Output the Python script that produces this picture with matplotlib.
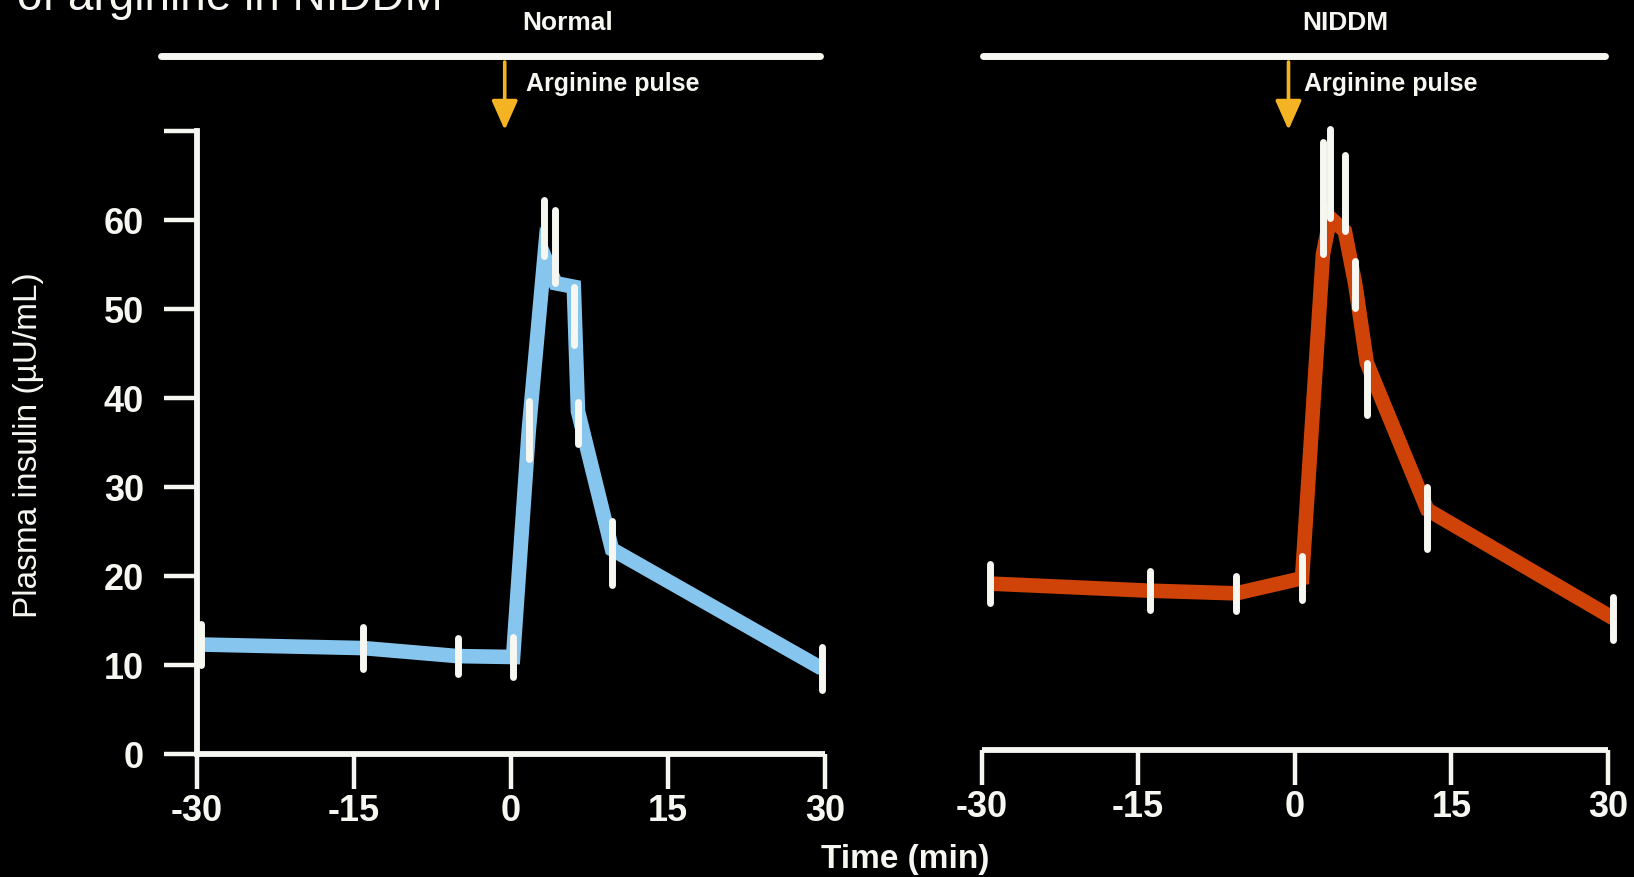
import matplotlib
matplotlib.use("Agg")
import matplotlib.pyplot as plt
from matplotlib import font_manager
from matplotlib.lines import Line2D

# ---------------- data ----------------
time_normal = [-29.6, -14.1, -5.1, 0.2, 1.7, 3.2, 4.25, 6.0, 6.4, 9.65, 29.7]
ins_normal = [12.3, 11.9, 11.0, 10.9, 36.4, 55.9, 52.9, 52.5, 38.5, 23.0, 9.6]
err_lo_normal = [2.3, 2.4, 2.0, 2.3, 3.3, 0.0, 0.0, 6.5, 3.7, 4.0, 2.4]
err_hi_normal = [2.3, 2.4, 2.0, 2.3, 3.3, 6.3, 8.2, 0.0, 1.0, 3.2, 2.4]

time_niddm = [-29.2, -13.9, -5.6, 0.7, 2.7, 3.4, 4.8, 5.8, 6.9, 12.7, 30.5]
ins_niddm = [18.7, 17.9, 17.6, 19.3, 55.7, 59.8, 58.3, 52.3, 43.5, 27.0, 14.8]
err_lo_niddm = [2.2, 2.2, 2.0, 2.5, 0.0, 0.0, 0.0, 2.6, 5.9, 4.4, 2.4]
err_hi_niddm = [2.2, 2.2, 2.0, 2.5, 12.6, 10.0, 8.5, 2.6, 0.0, 2.5, 2.4]

x_ticks = [-30, -15, 0, 15, 30]
x_tick_labels = ["-30", "-15", "0", "15", "30"]
y_ticks = [0, 10, 20, 30, 40, 50, 60, 70]
y_tick_labels = ["0", "10", "20", "30", "40", "50", "60", ""]
pulse_time = -0.6

panel_titles = ["Normal", "NIDDM"]
pulse_label = "Arginine pulse"
x_label = "Time (min)"
y_label = "Plasma insulin (\u00b5U/mL)"
top_text = "of arginine in NIDDM"

# ---------------- style ----------------
W, H = 1634, 878
avail = {f.name for f in font_manager.fontManager.ttflist}
base_font = "Liberation Sans" if "Liberation Sans" in avail else "DejaVu Sans"
narrow_font = "Liberation Sans Narrow" if "Liberation Sans Narrow" in avail else base_font
narrow_size = 31 if narrow_font == "Liberation Sans Narrow" else 26
label_size = 30 if narrow_font == "Liberation Sans Narrow" else 24

plt.rcParams["font.family"] = [base_font, "DejaVu Sans"]

BLUE = "#86C6EE"
RED = "#CF4208"
GOLD = "#F4B323"
WHITE = "#F7F7F2"


def fx(px):
    return px / W


def fy(py):
    return 1 - py / H


fig = plt.figure(figsize=(W / 100, H / 100), dpi=100, facecolor="black")

ax_l = fig.add_axes([fx(197), fy(755), fx(825) - fx(197), (755 - 132) / H])
ax_r = fig.add_axes([fx(981.5), fy(751), fx(1608) - fx(981.5), (751 - 128) / H])

panels = [
    (ax_l, time_normal, ins_normal, err_lo_normal, err_hi_normal, BLUE),
    (ax_r, time_niddm, ins_niddm, err_lo_niddm, err_hi_niddm, RED),
]

for ax, t, y, lo, hi, col in panels:
    ax.set_facecolor("black")
    ax.set_xlim(-30, 30)
    ax.set_ylim(0, 70)
    ax.plot(t, y, color=col, lw=10.5, solid_joinstyle="miter", solid_capstyle="butt",
            zorder=3, clip_on=False)
    eb = ax.errorbar(t, y, yerr=[lo, hi], fmt="none", ecolor=WHITE, elinewidth=5,
                     capsize=0, zorder=4)
    for c in eb[2]:
        c.set_capstyle("round")
        c.set_clip_on(False)
    for s in ["top", "right"]:
        ax.spines[s].set_visible(False)
    ax.spines["bottom"].set_color(WHITE)
    ax.spines["bottom"].set_linewidth(4.2)
    ax.spines["bottom"].set_capstyle("butt")
    ax.set_xticks(x_ticks)
    ax.set_xticklabels(x_tick_labels, fontfamily=narrow_font, fontsize=narrow_size,
                       fontweight="bold")
    ax.tick_params(axis="x", direction="out", length=25, width=3.2, colors=WHITE, pad=3)

ax_l.spines["left"].set_color(WHITE)
ax_l.spines["left"].set_linewidth(4.2)
ax_l.set_yticks(y_ticks)
ax_l.set_yticklabels(y_tick_labels, fontsize=26, fontweight="bold")
ax_l.tick_params(axis="y", direction="out", length=24, width=3.2, colors=WHITE, pad=14)

ax_r.spines["left"].set_visible(False)
ax_r.set_yticks([])

# header lines
fig.add_artist(Line2D([fx(161), fx(820)], [fy(57), fy(57)], color=WHITE, lw=5,
                      solid_capstyle="round"))
fig.add_artist(Line2D([fx(983), fx(1605)], [fy(57), fy(57)], color=WHITE, lw=5,
                      solid_capstyle="round"))

fig.text(fx(568), fy(23), panel_titles[0], color=WHITE, fontsize=19, fontweight="bold",
         ha="center", va="center")
fig.text(fx(1345), fy(23), panel_titles[1], color=WHITE, fontsize=19, fontweight="bold",
         ha="center", va="center")

# arginine pulse arrows
for ax, tx in [(ax_l, 526), (ax_r, 1304)]:
    ax.annotate("", xy=(pulse_time, fy(131)), xytext=(pulse_time, fy(63)),
                xycoords=("data", "figure fraction"), textcoords=("data", "figure fraction"),
                arrowprops=dict(arrowstyle="-|>,head_length=0.9,head_width=0.4", color=GOLD,
                                lw=2.6, shrinkA=0, shrinkB=0, mutation_scale=20),
                annotation_clip=False)
    fig.text(fx(tx), fy(84), pulse_label, color=WHITE, fontsize=18, fontweight="bold",
             ha="left", va="center")

fig.text(fx(905), fy(860), x_label, color=WHITE, fontfamily=narrow_font,
         fontsize=label_size, fontweight="bold", ha="center", va="center")
fig.text(fx(29), fy(445), y_label, color=WHITE, fontsize=24, rotation=90,
         ha="center", va="center")
fig.text(fx(17), fy(10), top_text, color=WHITE, fontsize=33, ha="left", va="baseline")

fig.savefig("out.png", dpi=100, facecolor="black")
